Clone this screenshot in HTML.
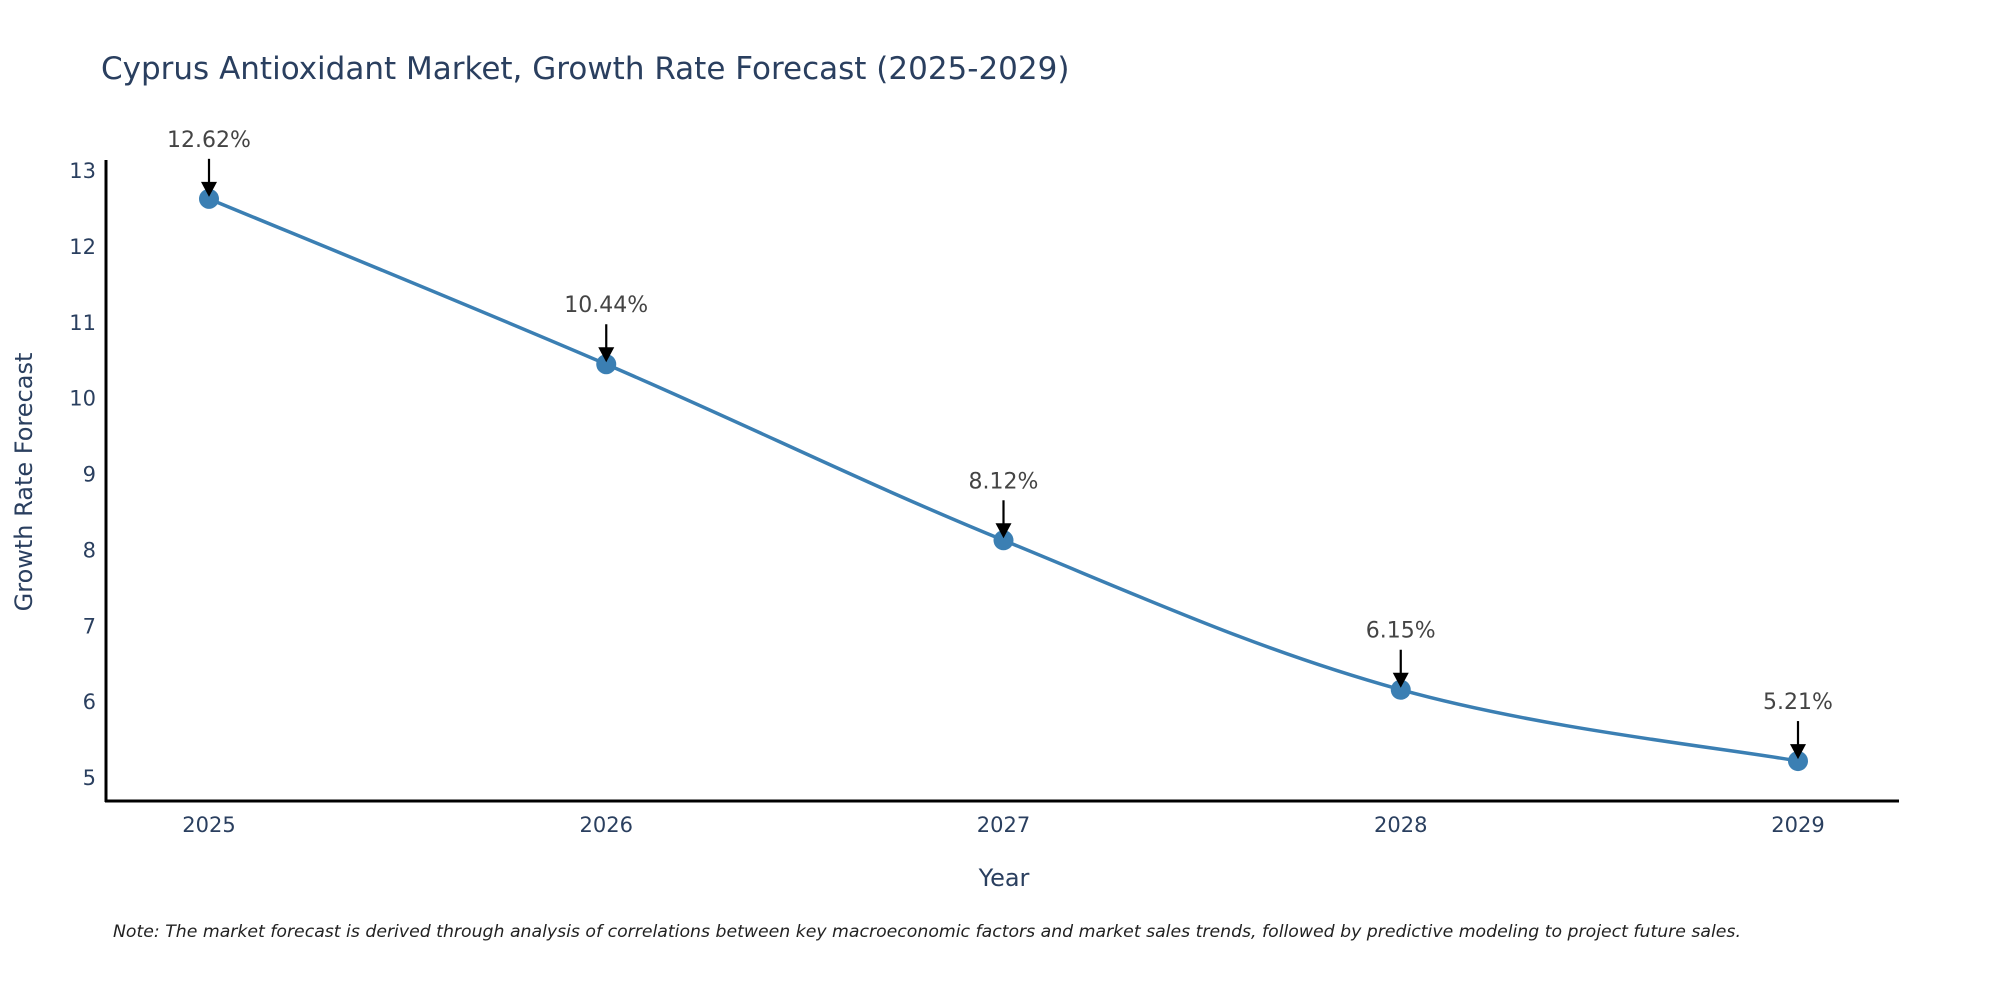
<!DOCTYPE html>
<html><head><meta charset="utf-8">
<style>
html,body{margin:0;padding:0;background:#fff;}
svg{display:block;font-family:"DejaVu Sans","Liberation Sans",sans-serif;}
</style></head>
<body>
<svg id="chart" width="2000" height="1000" viewBox="0 0 2000 1000">
  <text x="101" y="79" font-size="31" fill="#2a3f5f">Cyprus Antioxidant Market, Growth Rate Forecast (2025-2029)</text>
  <g id="yticks"></g>
  <g id="xticks"></g>
  <line x1="106" y1="160" x2="106" y2="802" stroke="#000" stroke-width="3"/>
  <line x1="105" y1="801" x2="1899" y2="801" stroke="#000" stroke-width="3"/>
  <path id="line" fill="none" stroke="#3b7fb3" stroke-width="3.5"/>
  <g id="points"></g>
  <g id="annots"></g>
  <text transform="translate(32,482) rotate(-90)" text-anchor="middle" font-size="24" fill="#2a3f5f">Growth Rate Forecast</text>
  <text x="1004" y="886" text-anchor="middle" font-size="24" fill="#2a3f5f">Year</text>
  <text x="113" y="937" font-size="17.3" font-style="italic" fill="#222">Note: The market forecast is derived through analysis of correlations between key macroeconomic factors and market sales trends, followed by predictive modeling to project future sales.</text>
</svg>
<script>
const years = ["2025","2026","2027","2028","2029"];
const values = [12.62, 10.44, 8.12, 6.15, 5.21];
const valueLabels = ["12.62%","10.44%","8.12%","6.15%","5.21%"];
const yTicks = [5,6,7,8,9,10,11,12,13];

const NS = "http://www.w3.org/2000/svg";
function xPos(i){ return 209 + i * (1798 - 209) / 4; }
function yPos(v){ return 170 + (13 - v) * (777 - 170) / 8; }
function mk(tag, attrs, parent){
  const e = document.createElementNS(NS, tag);
  for (const k in attrs) e.setAttribute(k, attrs[k]);
  parent.appendChild(e); return e;
}
const yt = document.getElementById('yticks');
yTicks.forEach(t => {
  const e = mk('text', {x: 96, y: yPos(t) + 8, 'text-anchor': 'end', 'font-size': 21, fill: '#2a3f5f'}, yt);
  
  
  e.textContent = t;
});
const xt = document.getElementById('xticks');
years.forEach((y, i) => {
  const e = mk('text', {x: xPos(i), y: 832, 'text-anchor': 'middle', 'font-size': 21, fill: '#2a3f5f'}, xt);
  
  
  e.textContent = y;
});
const pts = values.map((v, i) => [xPos(i), yPos(v)]);
let d = `M${pts[0][0]},${pts[0][1]}`;
for (let i = 0; i < pts.length - 1; i++) {
  const p0 = pts[i - 1] || pts[i], p1 = pts[i], p2 = pts[i + 1], p3 = pts[i + 2] || pts[i + 1];
  const s = 0.18;
  const c1 = [p1[0] + (p2[0] - p0[0]) * s, p1[1] + (p2[1] - p0[1]) * s];
  const c2 = [p2[0] - (p3[0] - p1[0]) * s, p2[1] - (p3[1] - p1[1]) * s];
  d += ` C${c1[0]},${c1[1]} ${c2[0]},${c2[1]} ${p2[0]},${p2[1]}`;
}
document.getElementById('line').setAttribute('d', d);
const pg = document.getElementById('points');
const ag = document.getElementById('annots');
pts.forEach((p, i) => {
  const c = mk('circle', {cx: p[0], cy: p[1], r: 10, fill: '#3b7fb3'}, pg);
  
  
  const l = mk('line', {x1: p[0], y1: p[1] - 40, x2: p[0], y2: p[1] - 14, stroke: '#000', 'stroke-width': 2.2}, ag);
  
  
  const h = mk('polygon', {points: `${p[0]-8},${p[1]-17} ${p[0]+8},${p[1]-17} ${p[0]},${p[1]-2}`, fill: '#000'}, ag);
  
  
  const t = mk('text', {x: p[0], y: p[1] - 52, 'text-anchor': 'middle', 'font-size': 22, fill: '#444'}, ag);
  
  
  t.textContent = valueLabels[i];
});
</script>
</body></html>
